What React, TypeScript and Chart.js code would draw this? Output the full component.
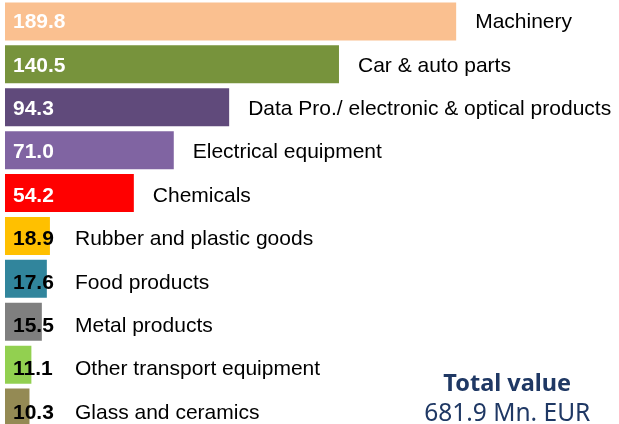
import React, { useEffect, useRef } from "react";
import { Chart, registerables } from "chart.js";

Chart.register(...registerables);

const categories = [
  "Machinery",
  "Car & auto parts",
  "Data Pro./ electronic & optical products",
  "Electrical equipment",
  "Chemicals",
  "Rubber and plastic goods",
  "Food products",
  "Metal products",
  "Other transport equipment",
  "Glass and ceramics",
];
const values = [189.8, 140.5, 94.3, 71.0, 54.2, 18.9, 17.6, 15.5, 11.1, 10.3];
const barColors = [
  "#FAC090",
  "#77933C",
  "#604A7B",
  "#8064A2",
  "#FF0000",
  "#FFC000",
  "#31859C",
  "#7F7F7F",
  "#92D050",
  "#948A54",
];
const valueLabelColors = [
  "#FFFFFF",
  "#FFFFFF",
  "#FFFFFF",
  "#FFFFFF",
  "#FFFFFF",
  "#000000",
  "#000000",
  "#000000",
  "#000000",
  "#000000",
];
const totalTitle = "Total value";
const totalText = "681.9 Mn. EUR";

const labelPlugin = {
  id: "barLabels",
  afterDatasetsDraw(chart: any) {
    const ctx = chart.ctx;
    const meta = chart.getDatasetMeta(0);
    ctx.save();
    meta.data.forEach((el: any, i: number) => {
      const base = el.base;
      const end = el.x;
      const y = el.y + 1 + i * 0.5;
      ctx.textBaseline = "middle";
      ctx.textAlign = "left";
      ctx.font = "bold 21px 'Liberation Sans', Arial, sans-serif";
      ctx.fillStyle = valueLabelColors[i];
      ctx.fillText(values[i].toFixed(1), base + 8, y);
      ctx.font = "21px 'Liberation Sans', Arial, sans-serif";
      ctx.fillStyle = "#000000";
      const lx = Math.max(end + 19, base + 70);
      ctx.fillText(categories[i], lx, y);
    });
    const area = chart.chartArea;
    const cx = area.left + (area.right - area.left) * 0.818;
    ctx.textAlign = "center";
    ctx.textBaseline = "alphabetic";
    ctx.fillStyle = "#1F3864";
    ctx.font = "bold 23.5px 'Noto Sans', 'Open Sans', sans-serif";
    ctx.fillText(totalTitle, cx, 391);
    ctx.font = "24.5px 'Noto Sans', 'Open Sans', sans-serif";
    ctx.fillText(totalText, cx, 421);
    ctx.restore();
  },
};

export default function App() {
  const ref = useRef<HTMLCanvasElement | null>(null);
  useEffect(() => {
    if (!ref.current) return;
    const chart = new Chart(ref.current, {
      type: "bar",
      data: {
        labels: categories,
        datasets: [
          {
            data: values,
            backgroundColor: barColors,
            borderWidth: 0,
            barPercentage: 0.886,
            categoryPercentage: 1,
          },
        ],
      },
      options: {
        indexAxis: "y",
        responsive: false,
        animation: false,
        devicePixelRatio: 1,
        layout: { padding: { left: 5, right: 0, top: 0, bottom: 0 } },
        plugins: {
          legend: { display: false },
          tooltip: { enabled: false },
          title: { display: false },
        },
        scales: {
          x: { display: false, min: 0, max: 258.3 },
          y: { display: false },
        },
      },
      plugins: [labelPlugin],
    });
    return () => chart.destroy();
  }, []);
  return (
    <div
      style={{
        position: "absolute",
        top: 0,
        left: 0,
        width: 619,
        height: 424,
        overflow: "hidden",
        background: "#FFFFFF",
      }}
    >
      <canvas ref={ref} width={619} height={429} style={{ display: "block" }} />
    </div>
  );
}
